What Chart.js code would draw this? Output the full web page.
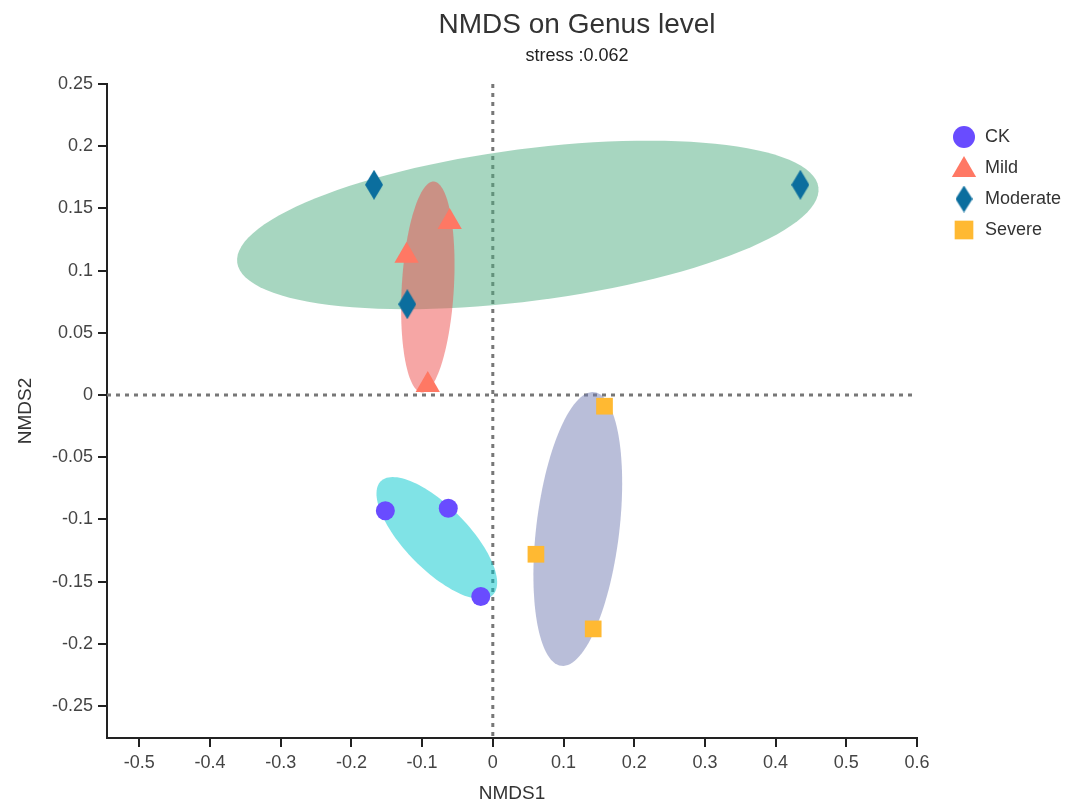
<!DOCTYPE html>
<html>
<head>
<meta charset="utf-8">
<script src="https://cdn.jsdelivr.net/npm/chart.js@4/dist/chart.umd.min.js"></script>
<style>
  body { margin: 0; background: #fff; }
  canvas { display: block; }
</style>
</head>
<body>
<canvas id="grafico" width="1067" height="805"></canvas>
<script>
// dados
const grupos = ['CK', 'Mild', 'Moderate', 'Severe'];
const ckX = [-0.152, -0.063, -0.017];
const ckY = [-0.093, -0.091, -0.162];
const mildX = [-0.122, -0.061, -0.092];
const mildY = [0.112, 0.139, 0.008];
const moderateX = [-0.168, -0.121, 0.435];
const moderateY = [0.169, 0.073, 0.169];
const severeX = [0.158, 0.061, 0.142];
const severeY = [-0.009, -0.128, -0.188];

// elipses: centro e dois semi-eixos conjugados (unidades dos dados)
const elipseGrupo = ['Moderate', 'CK', 'Mild', 'Severe'];
const elipseCentro = [[0.0495, 0.1367], [-0.0792, -0.1150], [-0.0919, 0.0868], [0.1202, -0.1077]];
const elipseU = [[0.411, 0.0303], [0.0792, -0.0457], [0.0085, 0.0848], [0.0233, 0.1100]];
const elipseV = [[0.0139, -0.0606], [0.0318, 0.0178], [0.0368, -0.0012], [0.0583, -0.0040]];

const xTicks = [-0.5, -0.4, -0.3, -0.2, -0.1, 0, 0.1, 0.2, 0.3, 0.4, 0.5, 0.6];
const yTicks = [-0.25, -0.2, -0.15, -0.1, -0.05, 0, 0.05, 0.1, 0.15, 0.2, 0.25];
const xMin = -0.5457, xMax = 0.6;
const yMin = -0.2757, yMax = 0.25;

const cores = { CK: '#694cff', Mild: '#ff7864', Moderate: '#0b6e9e', Severe: '#ffb932' };
const coresElipse = {
  CK: 'rgba(1,199,205,0.5)',
  Mild: 'rgba(237,77,75,0.5)',
  Moderate: 'rgba(79,173,129,0.5)',
  Severe: 'rgba(115,125,179,0.5)'
};

function losango(w, h, cor) {
  const c = document.createElement('canvas');
  c.width = w; c.height = h;
  const g = c.getContext('2d');
  g.fillStyle = cor;
  g.beginPath();
  g.moveTo(w / 2, 0); g.lineTo(w, h / 2); g.lineTo(w / 2, h); g.lineTo(0, h / 2);
  g.closePath(); g.fill();
  return c;
}
const losangoPonto = losango(18, 30, cores.Moderate);
const losangoLegenda = losango(17, 27, cores.Moderate);

const estilos = {
  CK: { pointStyle: 'circle', radius: 9.5, legRadius: 11 },
  Mild: { pointStyle: 'triangle', radius: 14, legRadius: 14 },
  Moderate: { pointStyle: losangoPonto, radius: 15, legStyle: losangoLegenda },
  Severe: { pointStyle: 'rect', radius: 11.8, legRadius: 13.2 }
};

const pts = (xs, ys) => xs.map((x, i) => ({ x, y: ys[i] }));
const series = { CK: pts(ckX, ckY), Mild: pts(mildX, mildY), Moderate: pts(moderateX, moderateY), Severe: pts(severeX, severeY) };

const fmt = v => String(parseFloat(Number(v).toFixed(2)));

const fundoPlugin = {
  id: 'fundo',
  beforeDatasetsDraw(chart) {
    const { ctx, chartArea, scales: { x, y } } = chart;
    ctx.save();
    // linhas do zero
    ctx.strokeStyle = '#777';
    ctx.lineWidth = 3;
    ctx.setLineDash([4, 5]);
    const y0 = y.getPixelForValue(0), x0 = x.getPixelForValue(0);
    ctx.beginPath();
    ctx.moveTo(chartArea.left, y0); ctx.lineTo(chartArea.right, y0);
    ctx.moveTo(x0, chartArea.top); ctx.lineTo(x0, chartArea.bottom);
    ctx.stroke();
    ctx.setLineDash([]);
    // elipses
    elipseGrupo.forEach((g, i) => {
      const [cx, cy] = elipseCentro[i], [ux, uy] = elipseU[i], [vx, vy] = elipseV[i];
      ctx.beginPath();
      for (let k = 0; k <= 120; k++) {
        const t = k / 120 * Math.PI * 2;
        const px = x.getPixelForValue(cx + ux * Math.cos(t) + vx * Math.sin(t));
        const py = y.getPixelForValue(cy + uy * Math.cos(t) + vy * Math.sin(t));
        k ? ctx.lineTo(px, py) : ctx.moveTo(px, py);
      }
      ctx.closePath();
      ctx.fillStyle = coresElipse[g];
      ctx.fill();
    });
    ctx.restore();
  },
  afterDraw(chart) {
    const { ctx } = chart;
    ctx.save();
    ctx.fillStyle = '#333';
    ctx.textAlign = 'center';
    ctx.textBaseline = 'middle';
    ctx.font = '28px "Liberation Sans", Arial, sans-serif';
    ctx.fillText('NMDS on Genus level', 577, 25);
    ctx.fillStyle = '#222';
    ctx.font = '18px "Liberation Sans", Arial, sans-serif';
    ctx.fillText('stress :0.062', 577, 56);
    // legenda
    ctx.textAlign = 'left';
    grupos.forEach((g, i) => {
      const yy = 137 + i * 31;
      const e = estilos[g];
      ctx.fillStyle = cores[g];
      Chart.helpers.drawPoint(ctx, { pointStyle: e.legStyle || e.pointStyle, radius: e.legRadius || e.radius, rotation: 0, borderWidth: 0 }, 964, g === 'Mild' ? yy + 2 : yy);
      ctx.fillStyle = '#333';
      ctx.font = '18px "Liberation Sans", Arial, sans-serif';
      ctx.fillText(g, 985, yy);
    });
    ctx.restore();
  }
};

const eixo = (min, max, ticks, titulo, tamanho) => ({
  type: 'linear',
  min, max,
  afterBuildTicks: s => { s.ticks = ticks.map(v => ({ value: v })); },
  afterFit: tamanho,
  ticks: { color: '#444', font: { size: 18 }, callback: fmt, padding: 5, autoSkip: false, maxRotation: 0 },
  grid: { drawOnChartArea: false, color: '#222', lineWidth: 2, tickLength: 9 },
  border: { color: '#222', width: 2 },
  title: { display: true, text: titulo, color: '#333', font: { size: 19 }, padding: { top: 14, bottom: 0 } }
});

Chart.defaults.font.family = '"Liberation Sans", Arial, sans-serif';

new Chart(document.getElementById('grafico'), {
  type: 'scatter',
  data: {
    datasets: grupos.map(g => ({
      label: g,
      data: series[g],
      pointStyle: estilos[g].pointStyle,
      pointRadius: estilos[g].radius,
      pointHoverRadius: estilos[g].radius,
      pointBackgroundColor: cores[g],
      pointBorderWidth: 0,
      borderWidth: 0
    }))
  },
  options: {
    responsive: false,
    animation: false,
    layout: { padding: { top: 84, right: 150, left: 0, bottom: 0 } },
    plugins: { legend: { display: false }, tooltip: { enabled: false } },
    scales: {
      x: eixo(xMin, xMax, xTicks, 'NMDS1', s => { s.height = 67; }),
      y: eixo(yMin, yMax, yTicks, 'NMDS2', s => { s.width = 107; })
    }
  },
  plugins: [fundoPlugin]
});
</script>
</body>
</html>
